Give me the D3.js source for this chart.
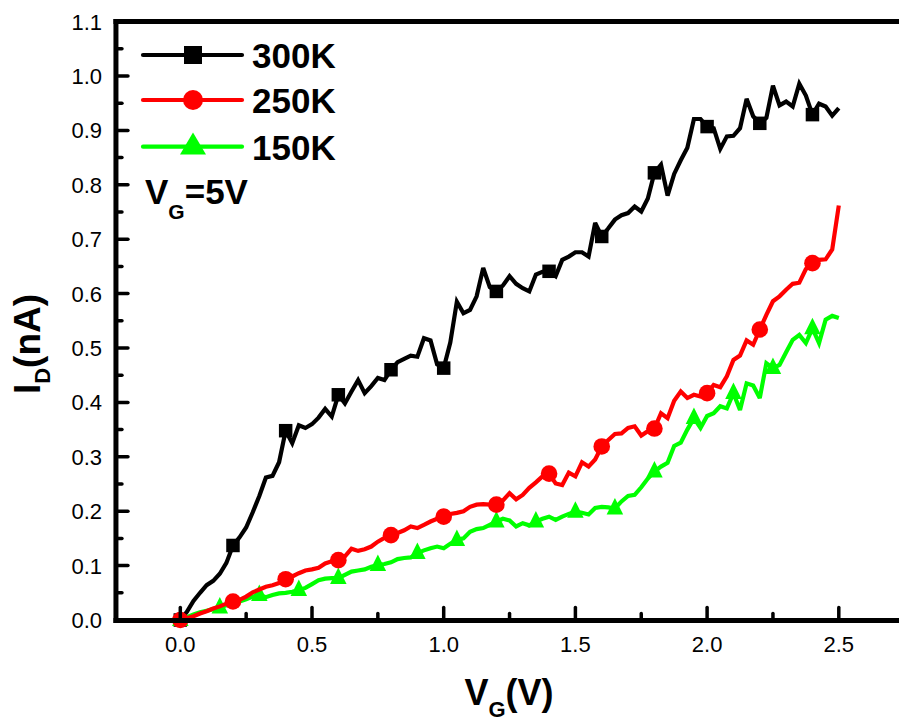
<!DOCTYPE html>
<html>
<head>
<meta charset="utf-8">
<script src="https://cdn.jsdelivr.net/npm/d3@7"></script>
<style>
  html, body { margin: 0; padding: 0; background: #fff; }
  svg { display: block; font-family: "Liberation Sans", Arial, sans-serif; }
</style>
</head>
<body>
<svg id="chart" width="899" height="725"></svg>
<script>
// Gate voltage sweep (V)
const vg = [
  0.000, 0.025, 0.050, 0.075, 0.100, 0.125, 0.150, 0.175, 0.200, 0.225,
  0.250, 0.275, 0.300, 0.325, 0.350, 0.375, 0.400, 0.425, 0.450, 0.475,
  0.500, 0.525, 0.550, 0.575, 0.600, 0.625, 0.650, 0.675, 0.700, 0.725,
  0.750, 0.775, 0.800, 0.825, 0.850, 0.875, 0.900, 0.925, 0.950, 0.975,
  1.000, 1.025, 1.050, 1.075, 1.100, 1.125, 1.150, 1.175, 1.200, 1.225,
  1.250, 1.275, 1.300, 1.325, 1.350, 1.375, 1.400, 1.425, 1.450, 1.475,
  1.500, 1.525, 1.550, 1.575, 1.600, 1.625, 1.650, 1.675, 1.700, 1.725,
  1.750, 1.775, 1.800, 1.825, 1.850, 1.875, 1.900, 1.925, 1.950, 1.975,
  2.000, 2.025, 2.050, 2.075, 2.100, 2.125, 2.150, 2.175, 2.200, 2.225,
  2.250, 2.275, 2.300, 2.325, 2.350, 2.375, 2.400, 2.425, 2.450, 2.475,
  2.500
];

// Drain current (nA) at 300 K
const id300 = [
  0, 0.015, 0.035, 0.05, 0.064, 0.072, 0.085, 0.105, 0.137, 0.152,
  0.17, 0.198, 0.228, 0.262, 0.265, 0.29, 0.348, 0.325, 0.358, 0.353,
  0.36, 0.372, 0.388, 0.374, 0.414, 0.398, 0.42, 0.441, 0.417, 0.43,
  0.445, 0.441, 0.46, 0.474, 0.48, 0.486, 0.484, 0.518, 0.514, 0.47,
  0.463, 0.51, 0.585, 0.564, 0.57, 0.595, 0.647, 0.612, 0.604, 0.615,
  0.632, 0.618, 0.61, 0.604, 0.635, 0.64, 0.641, 0.632, 0.662, 0.668,
  0.676, 0.676, 0.668, 0.73, 0.705, 0.72, 0.736, 0.744, 0.748, 0.76,
  0.751, 0.775, 0.822, 0.837, 0.78, 0.82, 0.845, 0.868, 0.921, 0.921,
  0.907, 0.904, 0.866, 0.889, 0.89, 0.904, 0.958, 0.926, 0.913, 0.923,
  0.982, 0.946, 0.953, 0.944, 0.986, 0.964, 0.929, 0.949, 0.944, 0.927,
  0.941
];

// Drain current (nA) at 250 K
const id250 = [
  0, 0.003, 0.007, 0.012, 0.016, 0.021, 0.025, 0.03, 0.034, 0.037,
  0.043, 0.051, 0.056, 0.061, 0.064, 0.068, 0.075, 0.08, 0.086, 0.091,
  0.093, 0.096, 0.104, 0.108, 0.11, 0.117, 0.131, 0.127, 0.13, 0.135,
  0.144, 0.151, 0.156, 0.16, 0.165, 0.172, 0.169, 0.175, 0.181, 0.186,
  0.19, 0.195, 0.197, 0.2, 0.208, 0.212, 0.213, 0.212, 0.212, 0.22,
  0.233, 0.222, 0.23, 0.243, 0.253, 0.264, 0.269, 0.251, 0.248, 0.271,
  0.264, 0.29, 0.282, 0.295, 0.319, 0.331, 0.342, 0.343, 0.353, 0.356,
  0.339, 0.347, 0.352, 0.38, 0.371, 0.403, 0.42, 0.408, 0.414, 0.411,
  0.417, 0.432, 0.428, 0.448, 0.478, 0.486, 0.514, 0.506, 0.534, 0.561,
  0.586, 0.595, 0.607, 0.618, 0.62, 0.645, 0.656, 0.662, 0.663, 0.681,
  0.762
];

// Drain current (nA) at 150 K
const id150 = [
  0, 0.005, 0.01, 0.014, 0.017, 0.02, 0.023, 0.027, 0.03, 0.034,
  0.038, 0.043, 0.046, 0.042, 0.046, 0.049, 0.05, 0.052, 0.055, 0.059,
  0.066, 0.073, 0.076, 0.077, 0.077, 0.083, 0.089, 0.091, 0.093, 0.098,
  0.101, 0.103, 0.106, 0.112, 0.114, 0.115, 0.123, 0.128, 0.132, 0.135,
  0.132, 0.14, 0.147, 0.15, 0.162, 0.167, 0.169, 0.175, 0.181, 0.186,
  0.183, 0.172, 0.178, 0.174, 0.181, 0.186, 0.19, 0.184, 0.19, 0.195,
  0.199, 0.197, 0.194, 0.206, 0.208, 0.207, 0.205, 0.218, 0.228, 0.23,
  0.244, 0.26, 0.273, 0.282, 0.289, 0.32, 0.326, 0.35, 0.371, 0.353,
  0.375, 0.38, 0.393, 0.389, 0.417, 0.386, 0.435, 0.431, 0.408, 0.472,
  0.463, 0.469, 0.492, 0.515, 0.524, 0.509, 0.536, 0.509, 0.552, 0.559,
  0.555
];

const seriesNames = ["300K", "250K", "150K"];
const seriesColors = ["#000000", "#ff0000", "#00ff00"];
const seriesSymbols = ["square", "circle", "triangle"];
const markerEvery = [8, 8, 6];

const xTicks = [0.0, 0.5, 1.0, 1.5, 2.0, 2.5];
const xMinorTicks = [0.25, 0.75, 1.25, 1.75, 2.25];
const yTicks = [0.0, 0.1, 0.2, 0.3, 0.4, 0.5, 0.6, 0.7, 0.8, 0.9, 1.0, 1.1];
const yMinorTicks = [0.05, 0.15, 0.25, 0.35, 0.45, 0.55, 0.65, 0.75, 0.85, 0.95, 1.05];

const svg = d3.select("#chart");

const x = d3.scaleLinear().domain([-0.25, 2.75]).range([114.45, 904.65]);
const y = d3.scaleLinear().domain([0, 1.1]).range([620, 21.6]);

const frameL = x(-0.25) + 1.5, frameR = 905, frameT = y(1.1), frameB = y(0) + 0.5;

// marker shape generator (plot or legend size)
function markerPath(kind, big) {
  if (kind === "square") {
    const s = big ? 18 : 13.5;
    return `M${-s/2},${-s/2}H${s/2}V${s/2}H${-s/2}Z`;
  }
  if (kind === "circle") {
    const r = big ? 10 : 8.3;
    return d3.symbol(d3.symbolCircle, Math.PI * r * r)();
  }
  const w = big ? 26 : 16.5, h = big ? 22 : 16.5;
  return `M0,${-h*0.64}L${w/2},${h*0.36}L${-w/2},${h*0.36}Z`;
}

// series: draw 300K first, then 150K, then 250K on top
const order = [0, 2, 1];
const allSeries = [id300, id250, id150];
const line = d3.line().x(d => x(d[0])).y(d => y(d[1]));

order.forEach(k => {
  const pts = vg.map((v, i) => [v, allSeries[k][i]]);
  const g = svg.append("g");
  g.append("path")
    .attr("d", line(pts))
    .attr("fill", "none")
    .attr("stroke", seriesColors[k])
    .attr("stroke-width", 4.2)
    .attr("stroke-linejoin", "miter")
    .attr("stroke-miterlimit", 3);
  g.selectAll("path.m")
    .data(pts.filter((p, i) => i % markerEvery[k] === 0))
    .join("path")
    .attr("class", "m")
    .attr("d", markerPath(seriesSymbols[k], false))
    .attr("transform", d => `translate(${x(d[0])},${y(d[1])})`)
    .attr("fill", seriesColors[k]);
});

// axes frame
const axisW = 5;
svg.append("line").attr("x1", frameL).attr("x2", frameL).attr("y1", frameT - 2.5).attr("y2", frameB + 2.5)
  .attr("stroke", "#000").attr("stroke-width", axisW);
svg.append("line").attr("x1", frameL - 2.5).attr("x2", frameR).attr("y1", frameB).attr("y2", frameB)
  .attr("stroke", "#000").attr("stroke-width", axisW);
svg.append("line").attr("x1", frameL - 2.5).attr("x2", frameR).attr("y1", frameT).attr("y2", frameT)
  .attr("stroke", "#000").attr("stroke-width", axisW);

// ticks point inward
const tickG = svg.append("g").attr("stroke", "#000").attr("stroke-linecap", "round");
xTicks.forEach(t => tickG.append("line").attr("x1", x(t)).attr("x2", x(t))
  .attr("y1", frameB).attr("y2", frameB - 13).attr("stroke-width", 3.5));
xMinorTicks.forEach(t => tickG.append("line").attr("x1", x(t)).attr("x2", x(t))
  .attr("y1", frameB).attr("y2", frameB - 7).attr("stroke-width", 3.5));
yTicks.slice(0, -1).forEach(t => tickG.append("line").attr("x1", frameL).attr("x2", frameL + 12)
  .attr("y1", y(t)).attr("y2", y(t)).attr("stroke-width", 3.5));
yMinorTicks.forEach(t => tickG.append("line").attr("x1", frameL).attr("x2", frameL + 6)
  .attr("y1", y(t)).attr("y2", y(t)).attr("stroke-width", 3.5));

// tick labels
svg.append("g").selectAll("text").data(xTicks).join("text")
  .attr("x", d => x(d)).attr("y", 652)
  .attr("text-anchor", "middle").attr("font-size", 22)
  .text(d => d.toFixed(1));
svg.append("g").selectAll("text").data(yTicks).join("text")
  .attr("x", 102).attr("y", d => y(d)).attr("dy", "0.36em")
  .attr("text-anchor", "end").attr("font-size", 22)
  .text(d => d.toFixed(1));

// axis titles
const xt = svg.append("text").attr("x", 509).attr("y", 705)
  .attr("text-anchor", "middle").attr("font-size", 36).attr("font-weight", "bold");
xt.append("tspan").text("V");
xt.append("tspan").attr("font-size", 22).attr("dy", 12).text("G");
xt.append("tspan").attr("dy", -12).text("(V)");

const yt = svg.append("text").attr("transform", "translate(40,344) rotate(-90)")
  .attr("text-anchor", "middle").attr("font-size", 37).attr("font-weight", "bold");
yt.append("tspan").text("I");
yt.append("tspan").attr("font-size", 22).attr("dy", 10).text("D");
yt.append("tspan").attr("dy", -10).text("(nA)");

// legend
const legY = [55, 100, 146.7];
seriesNames.forEach((name, k) => {
  const g = svg.append("g");
  g.append("line").attr("x1", 143).attr("x2", 242).attr("y1", legY[k]).attr("y2", legY[k])
    .attr("stroke", seriesColors[k]).attr("stroke-width", 4.2).attr("stroke-linecap", "round");
  g.append("path").attr("d", markerPath(seriesSymbols[k], true))
    .attr("transform", `translate(193,${legY[k]})`).attr("fill", seriesColors[k]);
  g.append("text").attr("x", 252).attr("y", legY[k] + 13)
    .attr("font-size", 35).attr("font-weight", "bold").text(name);
});

const note = svg.append("text").attr("x", 145).attr("y", 204)
  .attr("font-size", 35).attr("font-weight", "bold");
note.append("tspan").text("V");
note.append("tspan").attr("font-size", 21).attr("dy", 15).text("G");
note.append("tspan").attr("dy", -15).text("=5V");
</script>
</body>
</html>
